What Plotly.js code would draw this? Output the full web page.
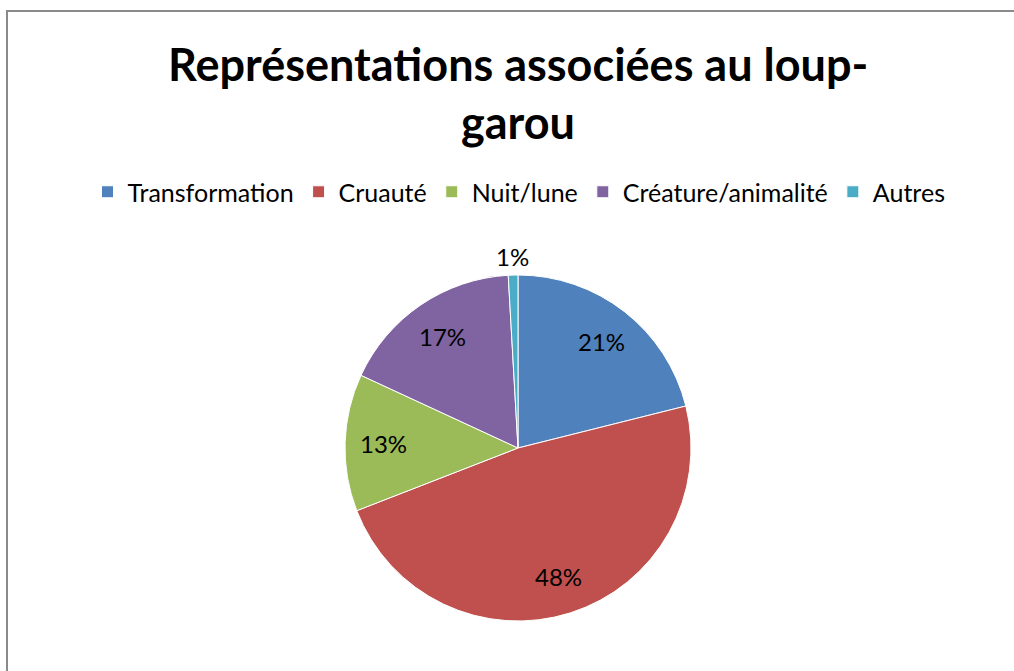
<!DOCTYPE html>
<html>
<head>
<meta charset="utf-8">
<script src="https://cdn.plot.ly/plotly-3.0.1.min.js"></script>
<style>
  html, body { margin: 0; padding: 0; background: #fff; overflow: hidden; }
  #wrap { position: relative; width: 1014px; height: 671px; }
  #frame { position: absolute; left: 6px; top: 10px; width: 1100px; height: 800px;
           border-left: 2px solid #8a8a8a; border-top: 2px solid #8a8a8a; pointer-events: none; }
  #chart { position: absolute; left: 0; top: 0; width: 1014px; height: 671px; }
</style>
</head>
<body>
<div id="wrap">
  <div id="chart"></div>
  <div id="frame"></div>
</div>
<script>
const categories = ["Transformation", "Cruauté", "Nuit/lune", "Créature/animalité", "Autres"];
const values = [21.1, 48.0, 12.8, 17.2, 0.9];
const colors = ["#4F81BD", "#C0504D", "#9BBB59", "#8064A2", "#4BACC6"];
const titleLines = ["Représentations associées au loup-", "garou"];

const W = 1014, H = 671;
const cx = 518, cy = 448, r = 173;
const FONT = "Lato, 'Open Sans', sans-serif";

const trace = {
  type: "pie",
  labels: categories,
  values: values,
  sort: false,
  direction: "clockwise",
  rotation: 0,
  marker: { colors: colors, line: { color: "#ffffff", width: 1 } },
  textinfo: "none",
  automargin: false,
  hoverinfo: "label+percent",
  domain: {
    x: [(cx - r) / W, (cx + r) / W],
    y: [(H - cy - r) / H, (H - cy + r) / H]
  }
};

// percentage labels placed along each slice's mid-angle (Excel-style)
const total = values.reduce((a, b) => a + b, 0);
const annotations = [];
let cum = 0;
values.forEach((v, i) => {
  const frac = v / total;
  const mid = (cum + frac / 2) * 2 * Math.PI; // clockwise from top
  cum += frac;
  const rf = frac < 0.03 ? 1.11 : 0.78;
  const px = cx + Math.sin(mid) * r * rf;
  const py = cy - Math.cos(mid) * r * rf;
  annotations.push({
    text: Math.round(frac * 100) + "%",
    x: px / W, y: 1 - py / H, xref: "paper", yref: "paper",
    xanchor: "center", yanchor: "middle", showarrow: false,
    font: { family: FONT, size: 24, color: "#000000" }
  });
});
// title lines
[[titleLines[0], 64], [titleLines[1], 122]].forEach(([t, y]) => {
  annotations.push({
    text: "<b>" + t + "</b>",
    x: 518 / W, y: 1 - y / H, xref: "paper", yref: "paper",
    xanchor: "center", yanchor: "middle", showarrow: false,
    font: { family: FONT, size: 45, color: "#000000" }
  });
});

const layout = {
  width: W, height: H,
  margin: { l: 0, r: 0, t: 0, b: 0 },
  paper_bgcolor: "#ffffff",
  plot_bgcolor: "#ffffff",
  font: { family: FONT, color: "#000000" },
  annotations: annotations,
  showlegend: true,
  legend: {
    orientation: "h",
    x: 519 / W, xanchor: "center",
    y: 1 - 192 / H, yanchor: "middle",
    font: { family: FONT, size: 25, color: "#000000" },
    traceorder: "normal",
    itemclick: false
  }
};

Plotly.newPlot("chart", [trace], layout, { displayModeBar: false, staticPlot: true });
</script>
</body>
</html>
